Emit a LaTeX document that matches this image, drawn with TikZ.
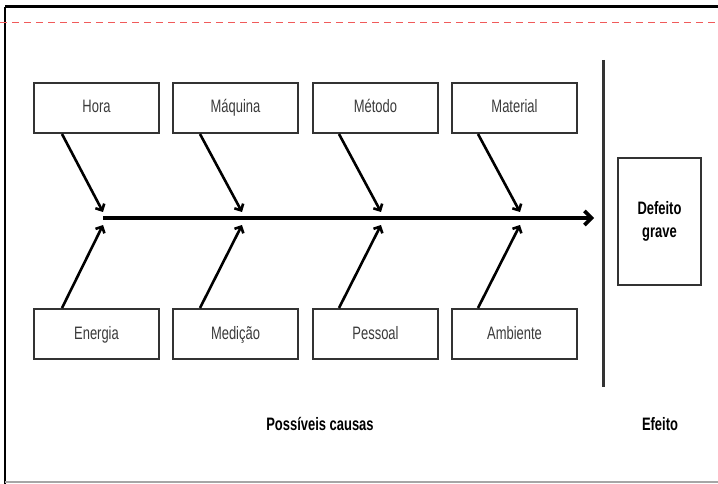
\documentclass[tikz,border=0pt]{standalone}
\usepackage{fontspec}
\setmainfont{Liberation Sans}[FakeStretch=0.72]
\usetikzlibrary{arrows.meta,calc}
\definecolor{boxline}{HTML}{333333}
\definecolor{txt}{HTML}{3A3A3A}
\definecolor{redline}{HTML}{F05A5A}
\tikzset{
  cause/.style={draw=boxline, line width=2pt, minimum width=125pt, minimum height=50pt, inner sep=0pt, text height=13pt, text depth=3pt, font=\fontsize{18}{20}\selectfont, text=txt, anchor=north west},
  effbox/.style={draw=boxline, line width=2pt, minimum width=83pt, minimum height=127pt, inner sep=0pt, font=\bfseries\fontsize{18}{23}\selectfont, align=center, anchor=north west},
  bone/.style={line width=2.6pt, -{Straight Barb[length=5pt,width=10pt]}},
  spine/.style={line width=3.6pt, -{Straight Barb[length=7pt,width=14pt]}},
  lbl/.style={font=\bfseries\fontsize{18}{20}\selectfont}
}
\begin{document}
\begin{tikzpicture}[x=1pt,y=-1pt]
\useasboundingbox (0,0) rectangle (718,484);
% frame
\draw[line width=3pt, black] (5,7) -- (718,7);
\draw[line width=2.5pt, black] (5,7) -- (5,484);
\draw[line width=2.5pt, gray!70] (5,482) -- (718,482);
\draw[redline, line width=1pt, dash pattern=on 7pt off 5pt] (0,23) -- (718,23);
% top causes
\node[cause] (hora) at (33,82) {Hora};
\node[cause] (maq) at (172,82) {Máquina};
\node[cause] (met) at (312,82) {Método};
\node[cause] (mat) at (451,82) {Material};
% bottom causes
\node[cause] (ene) at (33,308) {Energia};
\node[cause] (med) at (172,308) {Medição};
\node[cause] (pes) at (312,308) {Pessoal};
\node[cause] (amb) at (451,308) {Ambiente};
% effect
\node[effbox] (ef) at (617,157) {Defeito\\grave};
% spine
\coordinate (s0) at (103,218);
\coordinate (s1) at (594,218);
\draw[spine] (s0) -- (s1);
% tips
\coordinate (t1) at (103,212);
\coordinate (t2) at (242,212);
\coordinate (t3) at (381,212);
\coordinate (t4) at (520,212);
\coordinate (b1) at (103,225);
\coordinate (b2) at (242,225);
\coordinate (b3) at (381,225);
\coordinate (b4) at (520,225);
\draw[bone] ([xshift=29pt]hora.south west) -- (t1);
\draw[bone] ([xshift=28pt]maq.south west) -- (t2);
\draw[bone] ([xshift=27pt]met.south west) -- (t3);
\draw[bone] ([xshift=27pt]mat.south west) -- (t4);
\draw[bone] ([xshift=29pt]ene.north west) -- (b1);
\draw[bone] ([xshift=28pt]med.north west) -- (b2);
\draw[bone] ([xshift=27pt]pes.north west) -- (b3);
\draw[bone] ([xshift=27pt]amb.north west) -- (b4);
% divider
\coordinate (v0) at (603,60);
\coordinate (v1) at (603,387);
\draw[line width=3pt, boxline] (v0) -- (v1);
% labels
\node[lbl] (pc) at (320,424) {Possíveis causas};
\node[lbl] (efl) at (660,424) {Efeito};
\end{tikzpicture}
\end{document}
